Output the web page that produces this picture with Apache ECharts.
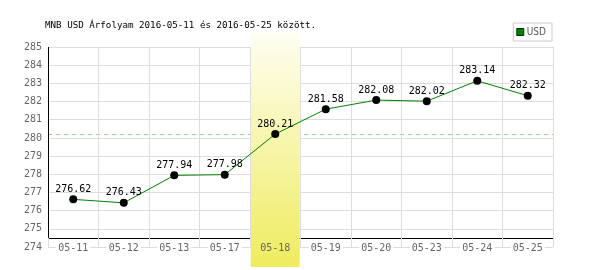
<!DOCTYPE html>
<html><head><meta charset="utf-8">
<script src="https://cdn.jsdelivr.net/npm/echarts@6/dist/echarts.min.js"></script>
<style>html,body{margin:0;padding:0;background:#fff}#c{width:600px;height:270px}</style>
</head><body><div id="c"></div>
<script>
const categories = ['05-11','05-12','05-13','05-17','05-18','05-19','05-20','05-23','05-24','05-25'];
const usdValues = [276.62,276.43,277.94,277.98,280.21,281.58,282.08,282.02,283.14,282.32];
const highlightCategory = '05-18';
const yMin = 274, yMax = 285, yInterval = 1;
const xAxisLineValue = 274.5;
const titleText = 'MNB USD Árfolyam 2016-05-11 és 2016-05-25 között.';
const seriesName = 'USD';

const hiIdx = categories.indexOf(highlightCategory);
const mono = 'DejaVu Sans Mono';
const chart = echarts.init(document.getElementById('c'), null, {renderer:'canvas'});
const option = {
  animation: false,
  title: {text: titleText, left: 45, top: 21, padding: 0,
    textStyle: {fontFamily: mono, fontSize: 9.2, fontWeight: 'normal', color: '#000'}},
  legend: {
    data: [{name: seriesName, icon: 'rect', itemStyle: {color: '#008000', borderColor: '#003000', borderWidth: 1}}],
    right: 48, top: 23, borderColor: '#ccc', borderWidth: 1, padding: [4, 6, 4, 3],
    itemWidth: 7, itemHeight: 7,
    textStyle: {fontFamily: 'Liberation Sans Narrow, DejaVu Sans Condensed, sans-serif', fontSize: 10, color: '#555', padding: [0,0,0,-2]}
  },
  grid: [
    {left: 48, right: 47, top: 47, bottom: 23},
    {left: 48, right: 47, top: 33, bottom: 3}
  ],
  xAxis: [
    {type: 'category', gridIndex: 0, z: 3,
     data: categories.map((c, i) => ({value: c, textStyle: {backgroundColor: i === hiIdx ? 'transparent' : '#fff'}})),
     axisLine: {show: false}, axisTick: {show: false},
     splitLine: {show: true, lineStyle: {color: '#ddd'}},
     axisLabel: {fontFamily: mono, fontSize: 10, lineHeight: 8, color: '#666', margin: -3, verticalAlign: 'middle', padding: [0, 2]}},
    {type: 'category', gridIndex: 1, data: categories, show: false}
  ],
  yAxis: [
    {type: 'value', gridIndex: 0, min: yMin, max: yMax, interval: yInterval,
     axisLine: {show: false}, axisTick: {show: false},
     splitLine: {lineStyle: {color: '#ddd'}},
     axisLabel: {fontFamily: mono, fontSize: 10, color: '#666', margin: 6}},
    {type: 'value', gridIndex: 1, min: 0, max: 1, show: false}
  ],
  series: [
    {type: 'line', name: 'ref', xAxisIndex: 0, yAxisIndex: 0, z: 1, data: usdValues,
     showSymbol: false, silent: true, lineStyle: {opacity: 0},
     markLine: {z: 1, symbol: 'none', silent: true, label: {show: false},
       data: [
         {yAxis: usdValues[hiIdx], lineStyle: {color: '#8fd48f', type: [4, 4], width: 1}},
         {yAxis: xAxisLineValue, lineStyle: {color: '#000', type: 'solid', width: 1}}
       ]}},
    {type: 'bar', name: 'hl', xAxisIndex: 1, yAxisIndex: 1, z: 2, barWidth: '97%', silent: true,
     data: categories.map((c, i) => i === hiIdx ? 1 : null),
     itemStyle: {color: new echarts.graphic.LinearGradient(0, 0, 0, 1, [
       {offset: 0, color: '#fefef2'}, {offset: 1, color: '#efec5e'}])}},
    {type: 'line', name: seriesName, xAxisIndex: 0, yAxisIndex: 0, z: 4, data: usdValues,
     symbol: 'circle', symbolSize: 8,
     itemStyle: {color: '#000'}, lineStyle: {color: '#008000', width: 1},
     label: {show: true, position: 'top', distance: 1, fontFamily: mono, fontSize: 10, color: '#000',
       formatter: p => p.value.toFixed(2)}}
  ]
};
chart.setOption(option);
const c0 = chart.convertToPixel({xAxisIndex: 0}, categories[0]);
const c1 = chart.convertToPixel({xAxisIndex: 0}, categories[1]);
const xLeft = Math.round(c0 - (c1 - c0) / 2) + 0.5;
const yTop = chart.convertToPixel({yAxisIndex: 0}, yMax);
const yBot = chart.convertToPixel({yAxisIndex: 0}, xAxisLineValue);
chart.setOption({graphic: [{type: 'line', z: 5, silent: true,
  shape: {x1: xLeft, y1: yTop, x2: xLeft, y2: yBot}, style: {stroke: '#000', lineWidth: 1}}]});
</script></body></html>
